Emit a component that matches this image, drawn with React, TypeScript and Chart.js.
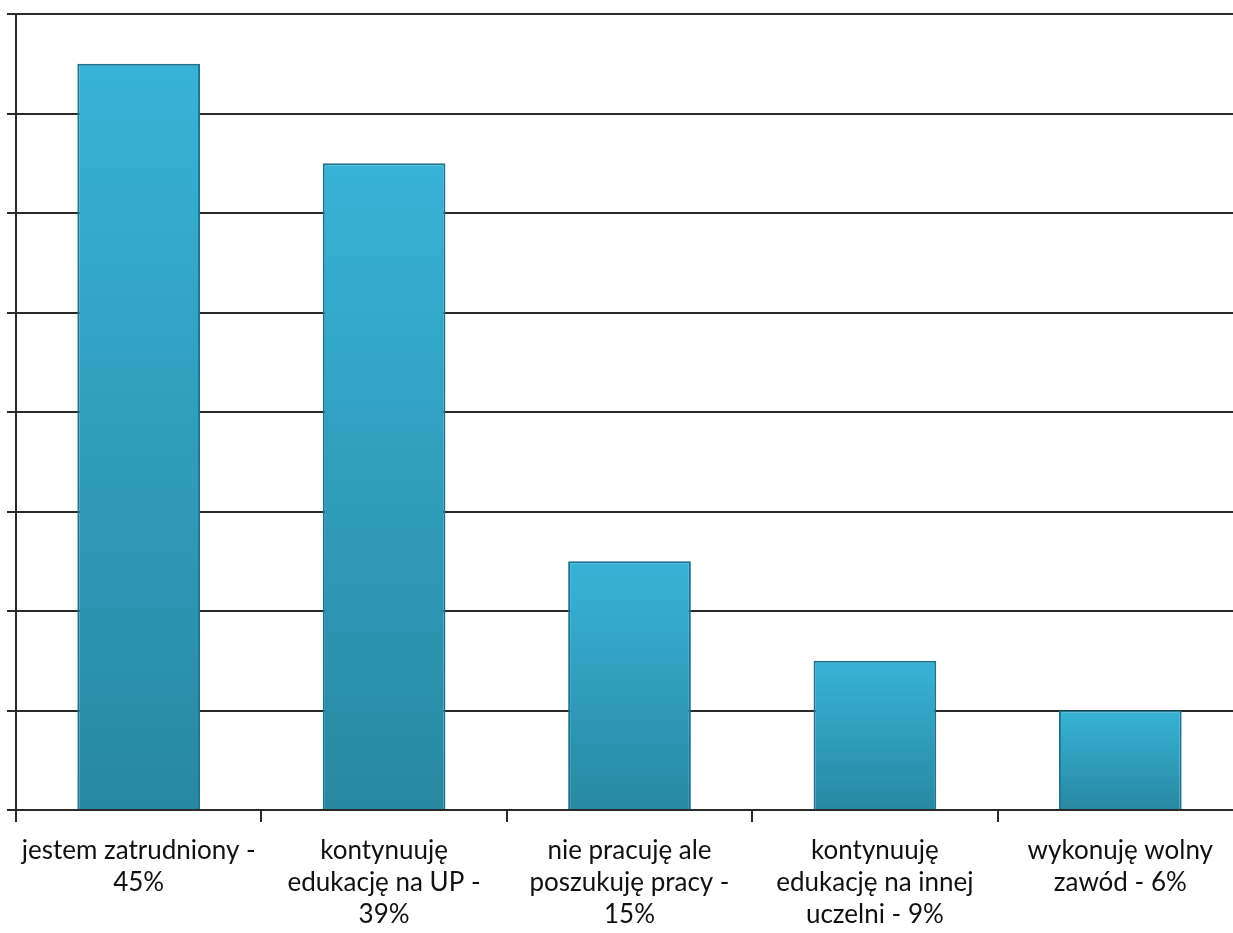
import React, { useEffect, useRef } from "react";
import { Chart, registerables } from "chart.js";

Chart.register(...registerables);

const categories: string[][] = [
  ["jestem zatrudniony -", "45%"],
  ["kontynuuję", "edukację na UP -", "39%"],
  ["nie pracuję ale", "poszukuję pracy -", "15%"],
  ["kontynuuję", "edukację na innej", "uczelni - 9%"],
  ["wykonuję wolny", "zawód - 6%"],
];
const values: number[] = [45, 39, 15, 9, 6];
const yMax = 48;
const yStep = 6;

export default function App() {
  const ref = useRef<HTMLCanvasElement | null>(null);
  useEffect(() => {
    document.body.style.margin = "0";
    document.body.style.overflow = "hidden";
    const canvas = ref.current!;
    const chart = new Chart(canvas, {
      type: "bar",
      data: {
        labels: categories,
        datasets: [
          {
            data: values,
            backgroundColor: (ctx: any) => {
              const c = ctx.chart;
              if (!c.chartArea || ctx.type !== "data") return "#33a9cc";
              const y = c.scales.y;
              const top = y.getPixelForValue(ctx.raw as number);
              const bottom = y.getPixelForValue(0);
              const g = c.ctx.createLinearGradient(0, top, 0, bottom);
              g.addColorStop(0, "#37b3d7");
              g.addColorStop(1, "#2888a1");
              return g;
            },
            borderColor: "#1b7390",
            borderWidth: 2,
            categoryPercentage: 1,
            barPercentage: 0.5,
          },
        ],
      },
      options: {
        responsive: false,
        animation: false,
        devicePixelRatio: 1,
        layout: { padding: { top: 14, right: 7, left: 0, bottom: 0 } },
        plugins: { legend: { display: false }, tooltip: { enabled: false } },
        scales: {
          x: {
            grid: {
              display: true,
              drawOnChartArea: false,
              drawTicks: true,
              tickLength: 12,
              color: "#2a2a2a",
              lineWidth: 2,
            },
            border: { display: false },
            ticks: {
              color: "#111111",
              font: { family: "Lato", size: 26, lineHeight: "32px" },
              padding: 13,
              maxRotation: 0,
              autoSkip: false,
            },
            afterFit: (s: any) => {
              s.height = 123;
            },
          },
          y: {
            min: 0,
            max: yMax,
            ticks: { display: false, stepSize: yStep },
            grid: {
              color: "#2a2a2a",
              lineWidth: 2,
              tickLength: 9,
            },
            border: { display: true, color: "#2a2a2a", width: 2 },
            afterFit: (s: any) => {
              s.width = 16;
            },
          },
        },
      },
    });
    return () => chart.destroy();
  }, []);
  return (
    <div style={{ position: "absolute", left: 0, top: 0, width: 1233, height: 933, overflow: "hidden", background: "#fff" }}>
      <canvas ref={ref} width={1250} height={933} style={{ display: "block" }} />
    </div>
  );
}
